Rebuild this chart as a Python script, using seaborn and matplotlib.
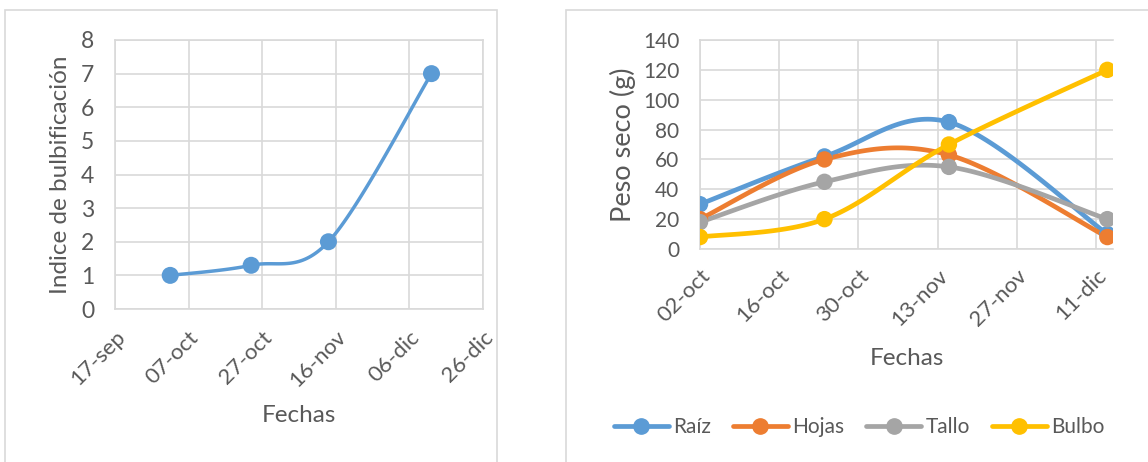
import numpy as np
import pandas as pd
import matplotlib
matplotlib.use("Agg")
import matplotlib.pyplot as plt
import matplotlib.dates as mdates
from matplotlib.lines import Line2D
from matplotlib.patches import Rectangle
import seaborn as sns

# Índice de bulbificación a lo largo del ciclo
fechas_indice = ["2015-10-02", "2015-10-24", "2015-11-14", "2015-12-12"]
indice = [1.0, 1.3, 2.0, 7.0]

# Peso seco (g) por órgano
fechas_peso = ["2015-10-02", "2015-10-24", "2015-11-15", "2015-12-13"]
raiz = [30, 62, 85, 10]
hojas = [20, 60, 63, 8]
tallo = [18, 45, 55, 20]
bulbo = [8, 20, 70, 120]
organos = ["Raíz", "Hojas", "Tallo", "Bulbo"]
colores = ["#5B9BD5", "#ED7D31", "#A5A5A5", "#FFC000"]

# Marcas del eje de fechas
ticks_izq = ["2015-09-17", "2015-10-07", "2015-10-27", "2015-11-16", "2015-12-06", "2015-12-26"]
etiquetas_izq = ["17-sep", "07-oct", "27-oct", "16-nov", "06-dic", "26-dic"]
ticks_der = ["2015-10-02", "2015-10-16", "2015-10-30", "2015-11-13", "2015-11-27", "2015-12-11"]
etiquetas_der = ["02-oct", "16-oct", "30-oct", "13-nov", "27-nov", "11-dic"]
fin_der = "2015-12-14"

GRIS_TEXTO = "#595959"
GRIS_REJILLA = "#D9D9D9"

sns.set_theme(style="white")
plt.rcParams["font.family"] = ["Lato", "DejaVu Sans"]


def num(fechas):
    return mdates.date2num(pd.to_datetime(fechas).to_pydatetime())


def suavizar(x, y, n=40):
    """Curva de Bézier cúbica por tramos (estilo Catmull-Rom) que pasa por los puntos."""
    P = np.column_stack([np.asarray(x, float), np.asarray(y, float)])
    Pe = np.vstack([P[0], P, P[-1]])
    t = np.linspace(0, 1, n)[:, None]
    tramos = []
    for i in range(len(P) - 1):
        p0, p3 = P[i], P[i + 1]
        c1 = p0 + (Pe[i + 2] - Pe[i]) / 6
        c2 = p3 - (Pe[i + 3] - Pe[i + 1]) / 6
        seg = (1 - t) ** 3 * p0 + 3 * (1 - t) ** 2 * t * c1 + 3 * (1 - t) * t ** 2 * c2 + t ** 3 * p3
        tramos.append(seg if i == 0 else seg[1:])
    return np.vstack(tramos)


def estilo_ejes(ax, fs_y, fs_x):
    ax.grid(True, color=GRIS_REJILLA, lw=1.2)
    ax.set_axisbelow(True)
    for s in ax.spines.values():
        s.set_color(GRIS_REJILLA)
        s.set_linewidth(1.2)
    ax.tick_params(axis="both", colors=GRIS_TEXTO, length=0)
    ax.tick_params(axis="y", labelsize=fs_y, pad=15)
    ax.tick_params(axis="x", labelsize=fs_x)


fig = plt.figure(figsize=(11.48, 4.62), dpi=100)

# Marcos de cada gráfico
fig.patches.append(Rectangle((5 / 1148, -0.05), 492 / 1148, 1.05 - 10 / 462, transform=fig.transFigure,
                             fill=False, ec=GRIS_REJILLA, lw=1.2))
fig.patches.append(Rectangle((566 / 1148, -0.05), 0.6, 1.05 - 10 / 462, transform=fig.transFigure,
                             fill=False, ec=GRIS_REJILLA, lw=1.2))

# --- Índice de bulbificación ---
ax1 = fig.add_axes([115 / 1148, (462 - 309) / 462, 368 / 1148, 269 / 462])
x1 = num(fechas_indice)
curva = suavizar(x1, indice)
sns.lineplot(x=curva[:, 0], y=curva[:, 1], ax=ax1, color=colores[0], lw=2.5, sort=False, estimator=None)
sns.scatterplot(x=x1, y=indice, ax=ax1, color=colores[0], s=150, edgecolor="none", zorder=3)
ax1.set_xlim(num(ticks_izq)[0], num(ticks_izq)[-1])
ax1.set_ylim(0, 8)
ax1.set_yticks(range(0, 9))
ax1.set_xticks(num(ticks_izq))
ax1.set_xticklabels(etiquetas_izq, rotation=45, ha="right", va="top", rotation_mode="anchor")
estilo_ejes(ax1, 16.5, 16)
ax1.tick_params(axis="x", pad=13)
ax1.set_xlabel("Fechas", fontsize=17.5, color=GRIS_TEXTO, labelpad=10)
ax1.set_ylabel("Indice de bulbificación", fontsize=17.5, color=GRIS_TEXTO, labelpad=7)

# --- Peso seco ---
ax2 = fig.add_axes([700 / 1148, (462 - 249) / 462, 413 / 1148, 209 / 462])
x2 = num(fechas_peso)
series = [raiz, hojas, tallo, bulbo]
for nombre, vals, col in zip(organos, series, colores):
    c = suavizar(x2, vals)
    sns.lineplot(x=c[:, 0], y=c[:, 1], ax=ax2, color=col, lw=3.4, sort=False, estimator=None)
for nombre, vals, col in zip(organos, series, colores):
    sns.scatterplot(x=x2, y=vals, ax=ax2, color=col, s=140, edgecolor="none", zorder=3)
ax2.set_xlim(num(ticks_der)[0], num([fin_der])[0])
ax2.set_ylim(0, 140)
ax2.set_yticks(range(0, 141, 20))
ax2.set_xticks(num(ticks_der))
ax2.set_xticklabels(etiquetas_der, rotation=45, ha="right", va="top", rotation_mode="anchor")
estilo_ejes(ax2, 15, 16)
ax2.spines["right"].set_visible(False)
ax2.tick_params(axis="x", length=6, color=GRIS_REJILLA, width=1.2, pad=6)
ax2.set_xlabel("Fechas", fontsize=17.5, color=GRIS_TEXTO, labelpad=13)
ax2.set_ylabel("Peso seco (g)", fontsize=19.5, color=GRIS_TEXTO, labelpad=5)

manejadores = [Line2D([0], [0], color=c, lw=3.4, marker="o", markersize=11) for c in colores]
fig.legend(manejadores, organos, loc="center", bbox_to_anchor=(859 / 1148, 1 - 427 / 462), ncol=4,
           frameon=False, fontsize=15, handlelength=2.65, handletextpad=0.2, columnspacing=1.05,
           labelcolor=GRIS_TEXTO)

fig.savefig("out.png", dpi=100)
